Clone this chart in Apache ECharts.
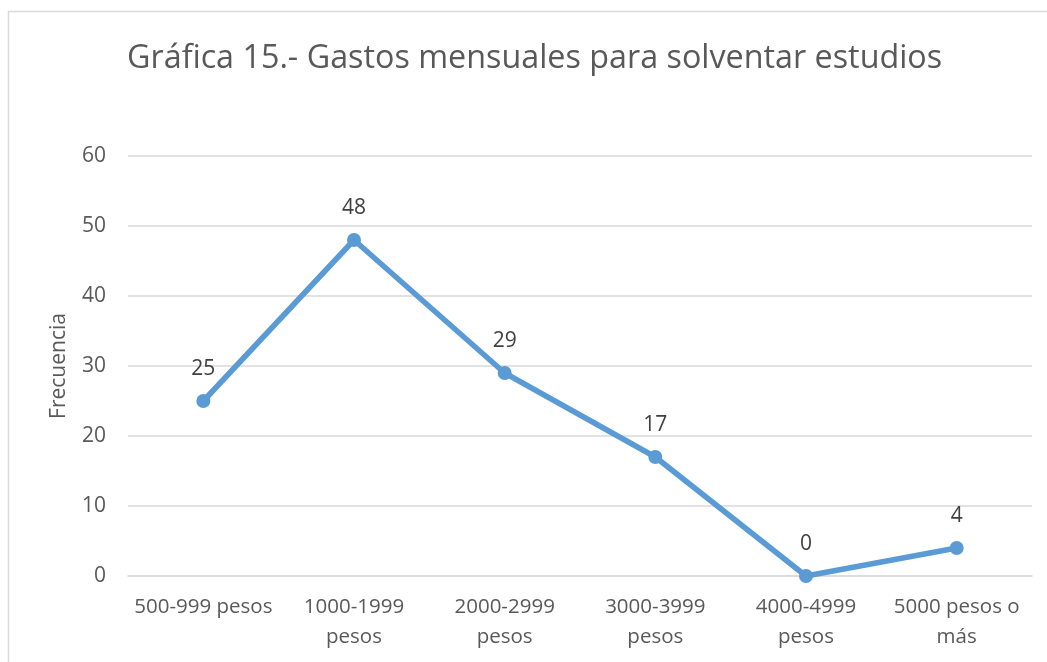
<!DOCTYPE html>
<html>
<head>
<meta charset="utf-8">
<script src="https://cdn.jsdelivr.net/npm/echarts@6/dist/echarts.min.js"></script>
<style>
  html, body { margin: 0; padding: 0; background: #fff; }
</style>
</head>
<body>
<div id="chart" style="width: 1047px; height: 662px;"></div>
<script>
const categories = ["500-999 pesos", "1000-1999\npesos", "2000-2999\npesos", "3000-3999\npesos", "4000-4999\npesos", "5000 pesos o\nmás"];
const frecuencia = [25, 48, 29, 17, 0, 4];
const yTicks = { min: 0, max: 60, interval: 10 };

const chart = echarts.init(document.getElementById("chart"));
chart.setOption({
  animation: false,
  textStyle: { fontFamily: "Open Sans" },
  graphic: [
    {
      type: "rect",
      shape: { x: 8.5, y: 11.5, width: 1100, height: 700 },
      style: { fill: "none", stroke: "#d9d9d9", lineWidth: 1.5 },
    },
  ],
  title: {
    text: "Gráfica 15.- Gastos mensuales para solventar estudios",
    left: 122,
    top: 38,
    textStyle: { fontSize: 32.3, fontWeight: "normal", color: "#595959", fontFamily: "Open Sans" },
  },
  grid: { left: 128, right: 15, top: 156, bottom: 86 },
  xAxis: {
    type: "category",
    data: categories,
    boundaryGap: true,
    axisLine: { lineStyle: { color: "#d9d9d9", width: 1.5 } },
    axisTick: { show: false },
    axisLabel: { color: "#595959", fontSize: 20.5, margin: 16, lineHeight: 30, interval: 0 },
  },
  yAxis: {
    type: "value",
    min: yTicks.min,
    max: yTicks.max,
    interval: yTicks.interval,
    name: "Frecuencia",
    nameLocation: "middle",
    nameGap: 58,
    nameTextStyle: { color: "#595959", fontSize: 21 },
    axisLine: { show: false },
    axisTick: { show: false },
    axisLabel: { color: "#595959", fontSize: 21, margin: 22 },
    splitLine: { lineStyle: { color: "#d9d9d9", width: 1.5 } },
  },
  series: [
    {
      name: "Frecuencia",
      type: "line",
      data: frecuencia,
      symbol: "circle",
      symbolSize: 14,
      lineStyle: { color: "#5b9bd5", width: 5.5 },
      itemStyle: { color: "#5b9bd5" },
      label: { show: true, position: "top", distance: 14, color: "#404040", fontSize: 21 },
    },
  ],
});
</script>
</body>
</html>
